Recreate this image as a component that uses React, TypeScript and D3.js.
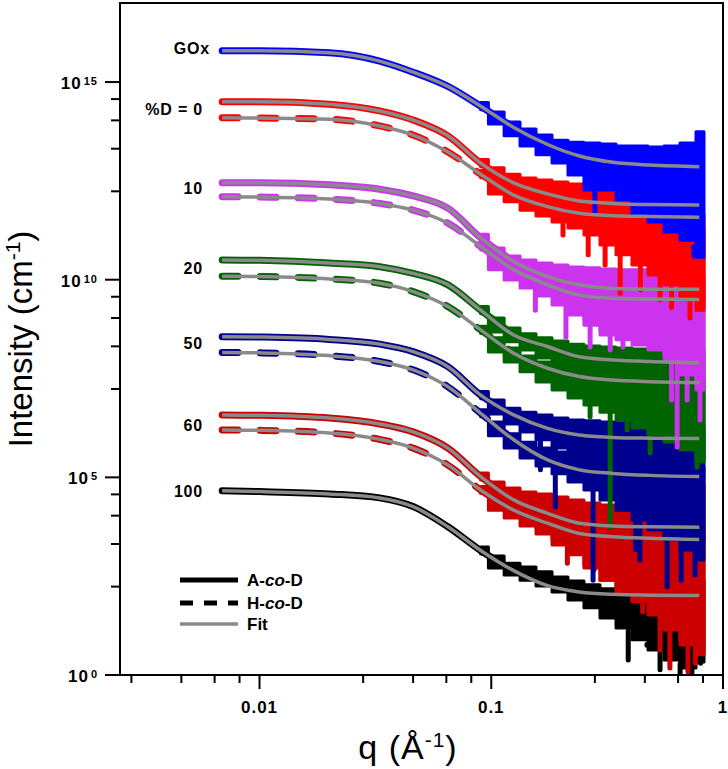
import * as d3 from 'd3';

const W = 728;
const H = 769;
const plot = { left: 120, right: 723, top: 3, bottom: 675 };

// q grid (Å⁻¹) for the fitted curves and the smooth low-q part of the data
const qFit = [0.0069, 0.01, 0.02, 0.033, 0.046, 0.065, 0.09, 0.125, 0.175, 0.24, 0.335, 0.485, 0.79];
// q grid for the noisy high-q part of the data
const qNoise = [0.09, 0.105, 0.123, 0.144, 0.169, 0.198, 0.232, 0.272, 0.319, 0.374, 0.438, 0.514, 0.602, 0.706, 0.828];

// all intensities below are log10(I / cm⁻¹), offset curves as plotted
const fitGOx = [15.79, 15.79, 15.74, 15.53, 15.25, 14.89, 14.39, 13.85, 13.42, 13.13, 12.97, 12.9, 12.86];
const fit0A = [14.5, 14.5, 14.44, 14.27, 14.04, 13.64, 12.95, 12.45, 12.17, 11.99, 11.93, 11.9, 11.89];
const fit0H = [14.1, 14.09, 14.06, 13.89, 13.66, 13.23, 12.67, 12.14, 11.85, 11.68, 11.62, 11.6, 11.58];
const fit10A = [12.45, 12.45, 12.4, 12.29, 12.12, 11.81, 11.06, 10.46, 10.08, 9.87, 9.78, 9.76, 9.76];
const fit10H = [12.1, 12.09, 12.04, 11.93, 11.76, 11.43, 10.84, 10.25, 9.87, 9.61, 9.53, 9.51, 9.5];
const fit20A = [10.5, 10.49, 10.42, 10.33, 10.16, 9.87, 9.23, 8.6, 8.31, 8.05, 7.97, 7.93, 7.9];
const fit20H = [10.09, 10.08, 10.02, 9.91, 9.7, 9.32, 8.73, 8.14, 7.76, 7.55, 7.46, 7.42, 7.4];
const fit50A = [8.56, 8.55, 8.49, 8.37, 8.18, 7.8, 7.08, 6.58, 6.24, 6.07, 6.01, 5.99, 5.98];
const fit50H = [8.16, 8.15, 8.08, 7.93, 7.72, 7.29, 6.62, 5.95, 5.44, 5.19, 5.1, 5.05, 5.02];
const fit60A = [6.58, 6.57, 6.5, 6.35, 6.15, 5.74, 5.02, 4.43, 4.09, 3.84, 3.77, 3.75, 3.74];
const fit60H = [6.2, 6.19, 6.12, 5.96, 5.74, 5.31, 4.68, 4.17, 3.84, 3.58, 3.5, 3.46, 3.43];
const fit100 = [4.66, 4.64, 4.58, 4.48, 4.26, 3.75, 3.15, 2.64, 2.26, 2.1, 2.04, 2.02, 2.01];

// upper / lower envelope of the noisy data band on qNoise
const hiGOx = [14.48, 14.24, 13.99, 13.81, 13.66, 13.53, 13.48, 13.46, 13.43, 13.38, 13.38, 13.36, 13.38, 13.46, 13.74];
const loGOx = [14.3, 13.94, 13.64, 13.38, 13.16, 12.95, 12.65, 12.27, 12.27, 12.02, 11.64, 11.46, 11.21, 11.0, 10.57];
const hi0A = [13.04, 12.83, 12.67, 12.57, 12.52, 12.47, 12.42, 12.4, 12.37, 12.27, 12.14, 12.02, 11.89, 11.76, 11.64];
const lo0A = [12.86, 12.52, 12.32, 12.14, 12.02, 11.89, 11.76, 11.51, 11.38, 11.13, 10.88, 10.63, 10.25, 9.87, 9.49];
const hi0H = [12.76, 12.52, 12.32, 12.14, 12.02, 11.92, 11.84, 11.76, 11.71, 11.64, 11.56, 11.51, 11.46, 11.38, 11.26];
const lo0H = [12.58, 12.17, 11.97, 11.76, 11.61, 11.46, 11.31, 11.13, 10.88, 10.63, 10.37, 10.12, 9.87, 9.49, 9.23];
const hi10A = [11.15, 10.8, 10.6, 10.5, 10.42, 10.37, 10.32, 10.3, 10.27, 10.25, 10.25, 10.2, 10.14, 10.09, 10.04];
const lo10A = [10.97, 10.5, 10.25, 10.09, 9.94, 9.61, 9.23, 8.98, 8.73, 8.6, 8.48, 8.35, 8.1, 7.72, 7.34];
const hi10H = [10.93, 10.6, 10.35, 10.2, 10.04, 9.94, 9.87, 9.79, 9.74, 9.69, 9.64, 9.61, 9.59, 9.56, 9.54];
const lo10H = [10.75, 10.25, 9.99, 9.79, 9.59, 9.36, 9.11, 8.85, 8.6, 8.48, 8.35, 8.22, 7.97, 7.59, 7.21];
const hi20A = [9.32, 9.03, 8.78, 8.63, 8.53, 8.45, 8.37, 8.32, 8.3, 8.27, 8.25, 8.22, 8.22, 8.22, 8.22];
const lo20A = [9.14, 8.68, 8.43, 8.22, 8.02, 7.84, 7.59, 7.34, 7.08, 6.83, 6.58, 6.33, 6.07, 5.82, 5.44];
const hi20H = [8.82, 8.53, 8.27, 8.07, 7.92, 7.82, 7.72, 7.67, 7.62, 7.57, 7.54, 7.51, 7.49, 7.46, 7.46];
const lo20H = [8.64, 8.17, 7.92, 7.67, 7.41, 7.21, 7.01, 6.83, 6.65, 6.45, 6.25, 6.07, 5.89, 5.69, 5.39];
const hi50A = [7.17, 6.96, 6.75, 6.65, 6.58, 6.5, 6.45, 6.43, 6.4, 6.38, 6.35, 6.35, 6.33, 6.33, 6.3];
const lo50A = [6.99, 6.6, 6.35, 6.15, 5.95, 5.74, 5.49, 5.19, 4.93, 4.68, 4.43, 4.17, 3.92, 3.67, 3.42];
const hi50H = [6.71, 6.4, 6.1, 5.89, 5.74, 5.64, 5.57, 5.49, 5.44, 5.39, 5.36, 5.34, 5.31, 5.29, 5.26];
const lo50H = [6.53, 6.05, 5.74, 5.49, 5.29, 5.09, 4.88, 4.68, 4.43, 4.17, 3.92, 3.67, 3.42, 3.16, 2.91];
const hi60A = [5.11, 4.88, 4.73, 4.63, 4.58, 4.5, 4.43, 4.35, 4.3, 4.28, 4.25, 4.25, 4.28, 4.43, 4.81];
const lo60A = [4.93, 4.48, 4.23, 4.02, 3.72, 3.42, 3.11, 2.78, 2.4, 2.15, 1.9, 1.65, 1.27, 0.89, 0.63];
const hi60H = [4.77, 4.53, 4.3, 4.12, 3.97, 3.87, 3.77, 3.69, 3.64, 3.59, 3.57, 3.54, 3.52, 3.52, 3.52];
const lo60H = [4.59, 4.17, 3.97, 3.77, 3.57, 3.29, 3.04, 2.71, 2.4, 2.1, 1.85, 1.52, 1.14, 0.76, 0.51];
const hi100 = [3.24, 3.01, 2.83, 2.73, 2.61, 2.48, 2.38, 2.28, 2.18, 2.07, 1.97, 1.9, 1.82, 1.9, 2.4];
const lo100 = [3.06, 2.71, 2.53, 2.4, 2.25, 2.1, 1.9, 1.7, 1.44, 1.19, 0.89, 0.63, 0.38, 0.18, 0.33];

// single low points dropping out of the band: [q, log10 I]
const spikesGOx = [[0.28, 11.7], [0.75, 10.6]];
const spikes0 = [[0.204, 11.13], [0.262, 10.63], [0.31, 10.37], [0.36, 9.66], [0.44, 9.74], [0.535, 9.49], [0.6, 9.3], [0.72, 9.03]];
const spikes10 = [[0.155, 9.23], [0.21, 8.55], [0.267, 8.3], [0.326, 8.22], [0.37, 8.3], [0.6, 6.96], [0.634, 5.77], [0.7, 6.96], [0.796, 6.45]];
const spikes20 = [[0.267, 6.53], [0.326, 3.74], [0.386, 6.2], [0.485, 5.62], [0.773, 5.26]];
const spikes50 = [[0.163, 5.19], [0.189, 4.25], [0.275, 2.4], [0.42, 3.17], [0.438, 2.91], [0.574, 2.23], [0.66, 2.4], [0.757, 2.53]];
const spikes60 = [[0.213, 2.83], [0.278, 2.66], [0.45, 1.6], [0.535, 0.63], [0.59, 0.18], [0.706, 0.08], [0.76, 0.3]];
const spikes100 = [[0.39, 0.38], [0.47, 0.75], [0.535, 0.13], [0.58, 0.5], [0.653, -0.13], [0.734, -0.08], [0.8, 0.3]];

// curve labels: text and log10 I of the plateau they sit next to
const labelText = ['GOx', '%D = 0', '10', '20', '50', '60', '100'];
const labelLogI = [15.85, 14.32, 12.32, 10.3, 8.4, 6.33, 4.66];

const xMajor = [0.01, 0.1, 1];
const xMajorText = ['0.01', '0.1', '1'];
const xDecades = [0.001, 0.01, 0.1];
const yMajorExp = [0, 5, 10, 15];
const minorMult = [2.8, 4.6, 6.4, 8.2];

const FONT = 'Arial, "Liberation Sans", Helvetica, sans-serif';
const FIT_COLOR = '#8a8a8a';

type Series = {
  color: string;
  dashed: boolean;
  fit: number[];
  hi: number[];
  lo: number[];
  spikes: number[][];
};

// drawn bottom first, top last
const series: Series[] = [
  { color: '#000000', dashed: false, fit: fit100, hi: hi100, lo: lo100, spikes: spikes100 },
  { color: '#cc0000', dashed: true, fit: fit60H, hi: hi60H, lo: lo60H, spikes: [] },
  { color: '#cc0000', dashed: false, fit: fit60A, hi: hi60A, lo: lo60A, spikes: spikes60 },
  { color: '#00008f', dashed: true, fit: fit50H, hi: hi50H, lo: lo50H, spikes: [] },
  { color: '#00008f', dashed: false, fit: fit50A, hi: hi50A, lo: lo50A, spikes: spikes50 },
  { color: '#006400', dashed: true, fit: fit20H, hi: hi20H, lo: lo20H, spikes: [] },
  { color: '#006400', dashed: false, fit: fit20A, hi: hi20A, lo: lo20A, spikes: spikes20 },
  { color: '#cc33ee', dashed: true, fit: fit10H, hi: hi10H, lo: lo10H, spikes: [] },
  { color: '#cc33ee', dashed: false, fit: fit10A, hi: hi10A, lo: lo10A, spikes: spikes10 },
  { color: '#ff0000', dashed: true, fit: fit0H, hi: hi0H, lo: lo0H, spikes: [] },
  { color: '#ff0000', dashed: false, fit: fit0A, hi: hi0A, lo: lo0A, spikes: spikes0 },
  { color: '#0000ff', dashed: false, fit: fitGOx, hi: hiGOx, lo: loGOx, spikes: spikesGOx },
];

export default function App() {
  const x = d3.scaleLog().domain([0.0025, 1]).range([plot.left, plot.right]);
  const y = d3.scaleLog().domain([1, 1e17]).range([plot.bottom, plot.top]);
  const yl = (v: number) => y(Math.pow(10, v));

  const line = d3
    .line<[number, number]>()
    .x((d) => x(d[0]))
    .y((d) => yl(d[1]))
    .curve(d3.curveMonotoneX);

  // smooth data line runs a bit past the start of the noisy band
  const nSmooth = qFit.indexOf(0.09) + 2;

  const xMinor = xDecades
    .flatMap((d) => minorMult.map((m) => d * m))
    .filter((v) => v >= 0.0025 && v <= 1);
  const yMinorExp = yMajorExp.flatMap((e) => minorMult.map((m) => e + 5 * Math.log10(m))).filter((e) => e <= 17);

  return (
    <svg
      width={W}
      height={H}
      style={{ position: 'fixed', left: 0, top: 0, background: '#fff' }}
      fontFamily={FONT}
    >
      <defs>
        <clipPath id="plotClip">
          <rect x={plot.left} y={plot.top} width={plot.right - plot.left} height={plot.bottom - plot.top} />
        </clipPath>
      </defs>

      <g clipPath="url(#plotClip)">
        {series.map((s, k) => {
          const area = d3
            .area<number>()
            .x((_, i) => x(qNoise[i]))
            .y0((_, i) => yl(s.lo[i]))
            .y1((_, i) => yl(s.hi[i]))
            .curve(d3.curveStep);
          const loAt = d3.scaleLog().domain(qNoise).range(s.lo);
          const smooth = qFit.slice(0, nSmooth).map((q, i) => [q, s.fit[i]] as [number, number]);
          return (
            <g key={k}>
              <path d={area(s.hi) ?? ''} fill={s.color} stroke={s.color} strokeWidth={3} strokeLinejoin="round" />
              {s.spikes.map((p, j) => (
                <line
                  key={j}
                  x1={x(p[0])}
                  x2={x(p[0])}
                  y1={yl(loAt(p[0]))}
                  y2={yl(p[1])}
                  stroke={s.color}
                  strokeWidth={5}
                  strokeLinecap="round"
                />
              ))}
              <path
                d={line(smooth) ?? ''}
                fill="none"
                stroke={s.color}
                strokeWidth={7}
                strokeLinecap="round"
                strokeDasharray={s.dashed ? '16 22' : undefined}
              />
            </g>
          );
        })}
        {series.map((s, k) => (
          <path
            key={'fit' + k}
            d={line(qFit.map((q, i) => [q, s.fit[i]] as [number, number])) ?? ''}
            fill="none"
            stroke={FIT_COLOR}
            strokeWidth={3.5}
          />
        ))}
      </g>

      {/* frame */}
      <rect
        x={plot.left}
        y={plot.top}
        width={plot.right - plot.left}
        height={plot.bottom - plot.top}
        fill="none"
        stroke="#000"
        strokeWidth={2}
      />

      {/* x ticks */}
      {xMajor.map((v, i) => (
        <g key={'xm' + i}>
          <line x1={x(v)} x2={x(v)} y1={plot.bottom} y2={plot.bottom + 14} stroke="#000" strokeWidth={2} />
          <text x={x(v)} y={713} textAnchor="middle" fontSize={17} fontWeight="bold" letterSpacing={1}>
            {xMajorText[i]}
          </text>
        </g>
      ))}
      {xMinor.map((v, i) => (
        <line key={'xn' + i} x1={x(v)} x2={x(v)} y1={plot.bottom} y2={plot.bottom + 8} stroke="#000" strokeWidth={2} />
      ))}

      {/* y ticks */}
      {yMajorExp.map((e) => (
        <g key={'ym' + e}>
          <line x1={plot.left - 15} x2={plot.left} y1={yl(e)} y2={yl(e)} stroke="#000" strokeWidth={2} />
          <text x={98} y={yl(e) + 7} textAnchor="end" fontSize={17} fontWeight="bold" letterSpacing={1}>
            10
            <tspan dy={-4} fontSize={11} dx={2}>
              {e}
            </tspan>
          </text>
        </g>
      ))}
      {yMinorExp.map((e, i) => (
        <line key={'yn' + i} x1={plot.left - 9} x2={plot.left} y1={yl(e)} y2={yl(e)} stroke="#000" strokeWidth={2} />
      ))}

      {/* curve labels */}
      {labelText.map((t, i) => (
        <text
          key={'lab' + i}
          x={i === 0 ? 210 : 203}
          y={yl(labelLogI[i]) + 6}
          textAnchor="end"
          fontSize={16}
          fontWeight="bold"
          letterSpacing={0.8}
        >
          {t}
        </text>
      ))}

      {/* legend */}
      <g fontSize={17} fontWeight="bold">
        <line x1={180} x2={238} y1={580} y2={580} stroke="#000" strokeWidth={5} />
        <text x={247} y={586}>
          A-<tspan fontStyle="italic">co</tspan>-D
        </text>
        <line x1={180} x2={238} y1={603} y2={603} stroke="#000" strokeWidth={5} strokeDasharray="13 11" />
        <text x={247} y={609}>
          H-<tspan fontStyle="italic">co</tspan>-D
        </text>
        <line x1={180} x2={238} y1={624} y2={624} stroke={FIT_COLOR} strokeWidth={3.5} />
        <text x={247} y={630}>Fit</text>
      </g>

      {/* axis titles */}
      <text x={408} y={759} textAnchor="middle" fontSize={34} letterSpacing={1}>
        q (Å<tspan dy={-12} fontSize={21}>-1</tspan>
        <tspan dy={12}>)</tspan>
      </text>
      <text transform={`translate(32,${(plot.top + plot.bottom) / 2}) rotate(-90)`} textAnchor="middle" fontSize={33}>
        Intensity (cm<tspan dy={-12} fontSize={21}>-1</tspan>
        <tspan dy={12}>)</tspan>
      </text>
    </svg>
  );
}
